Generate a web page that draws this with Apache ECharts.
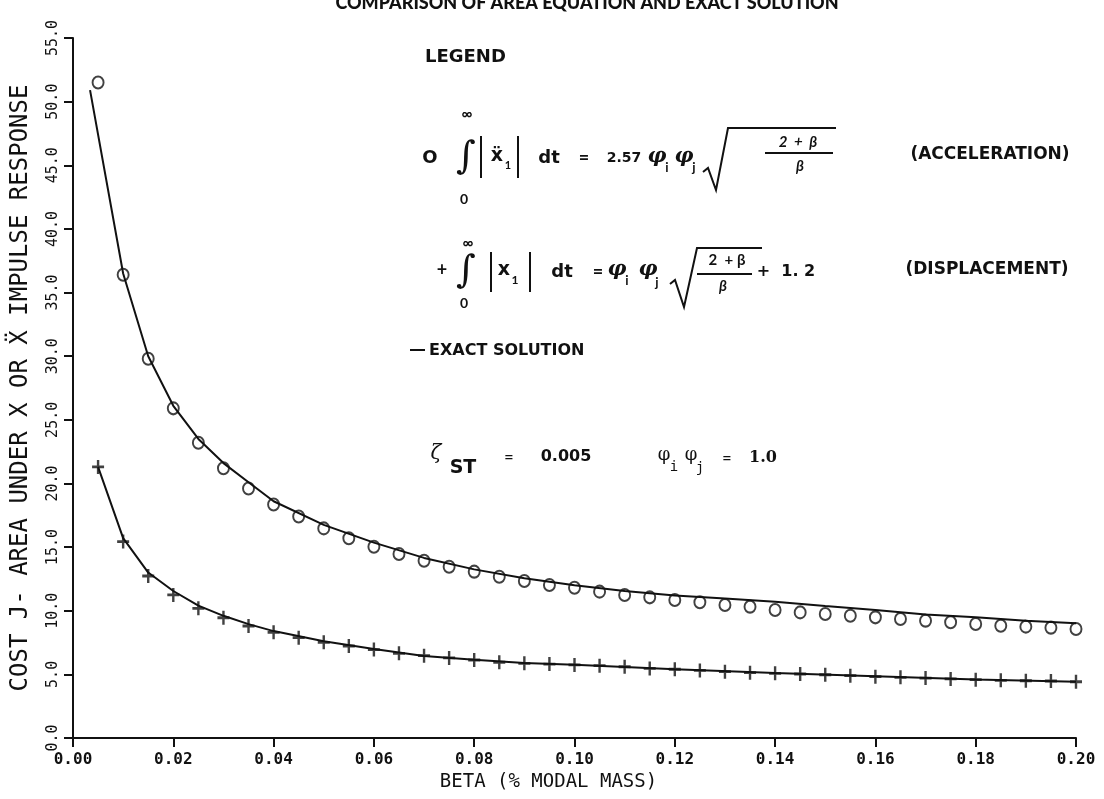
<!DOCTYPE html>
<html>
<head>
<meta charset="utf-8">
<title>Comparison of area equation and exact solution</title>
<script src="https://cdn.jsdelivr.net/npm/echarts@6/dist/echarts.min.js"></script>
<style>
  html, body { margin: 0; padding: 0; background: #fff; }
  #chart { width: 1104px; height: 799px; }
</style>
</head>
<body>
<div id="chart"></div>
<script>
// beta values of the plotted symbols
const betaPts = [
  0.005, 0.010, 0.015, 0.020, 0.025, 0.030, 0.035, 0.040, 0.045, 0.050,
  0.055, 0.060, 0.065, 0.070, 0.075, 0.080, 0.085, 0.090, 0.095, 0.100,
  0.105, 0.110, 0.115, 0.120, 0.125, 0.130, 0.135, 0.140, 0.145, 0.150,
  0.155, 0.160, 0.165, 0.170, 0.175, 0.180, 0.185, 0.190, 0.195, 0.200
];
// O : acceleration area equation
const accelVals = [
  51.5, 36.4, 29.8, 25.9, 23.2, 21.2, 19.6, 18.35, 17.4, 16.47,
  15.7, 15.03, 14.46, 13.93, 13.46, 13.07, 12.67, 12.34, 12.02, 11.81,
  11.5, 11.24, 11.05, 10.84, 10.66, 10.45, 10.32, 10.06, 9.87, 9.74,
  9.61, 9.48, 9.35, 9.22, 9.09, 8.96, 8.82, 8.75, 8.67, 8.56
];
// + : displacement area equation
const dispVals = [
  21.3, 15.43, 12.73, 11.24, 10.19, 9.45, 8.80, 8.30, 7.88, 7.52,
  7.23, 6.95, 6.65, 6.47, 6.29, 6.13, 5.95, 5.87, 5.81, 5.74,
  5.68, 5.60, 5.47, 5.40, 5.31, 5.21, 5.13, 5.08, 5.03, 4.97,
  4.90, 4.82, 4.77, 4.71, 4.64, 4.58, 4.53, 4.50, 4.48, 4.42
];
// exact solution curves
const exactAccBeta = [0.0034, 0.01, 0.015, 0.02, 0.025, 0.03, 0.035, 0.04, 0.05, 0.06, 0.07, 0.08,
  0.09, 0.10, 0.11, 0.12, 0.13, 0.14, 0.15, 0.16, 0.17, 0.18, 0.19, 0.20];
const exactAccVals = [50.9, 36.5, 30.0, 26.1, 23.5, 21.6, 20.1, 18.6, 16.75, 15.35, 14.15, 13.25,
  12.55, 12.0, 11.55, 11.2, 10.97, 10.71, 10.37, 10.06, 9.71, 9.48, 9.22, 9.01];
const exactDispBeta = [0.005, 0.01, 0.015, 0.02, 0.025, 0.03, 0.035, 0.04, 0.05, 0.06, 0.07, 0.08,
  0.09, 0.10, 0.12, 0.14, 0.16, 0.18, 0.20];
const exactDispVals = [21.3, 15.7, 13.0, 11.55, 10.4, 9.6, 8.95, 8.4, 7.6, 7.0, 6.45, 6.15,
  5.9, 5.75, 5.4, 5.1, 4.85, 4.6, 4.42];

const zip = (xs, ys) => xs.map((x, i) => [x, ys[i]]);

const INK = "#111";
const SANS = "'DejaVu Sans', sans-serif";
const LATO = "Lato, 'Open Sans', sans-serif";
const MONO = "'DejaVu Sans Mono', monospace";
const SERIF = "'DejaVu Serif', serif";

// little helper for the legend / annotation texts
function txt(x, y, s, size, extra) {
  return {
    type: "text",
    x: x,
    y: y,
    style: Object.assign({
      text: s,
      fill: INK,
      font: "bold " + size + "px " + LATO,
      align: "center",
      verticalAlign: "middle"
    }, extra || {})
  };
}
function seg(pts, w) {
  return {
    type: "polyline",
    shape: { points: pts },
    style: { stroke: INK, lineWidth: w || 2, fill: null }
  };
}

let myChart = echarts.init(document.getElementById("chart"));

myChart.setOption({
  backgroundColor: "#fff",
  animation: false,
  title: {
    text: "COMPARISON OF AREA EQUATION AND EXACT SOLUTION",
    left: 582,
    top: -11,
    textAlign: "center",
    textStyle: { fontFamily: LATO, fontWeight: 900, fontSize: 18, color: INK }
  },
  grid: { left: 73, right: 28, top: 38, bottom: 61 },
  xAxis: {
    type: "value",
    min: 0,
    max: 0.2,
    interval: 0.02,
    name: "BETA (% MODAL MASS)",
    nameLocation: "middle",
    nameGap: 34,
    nameTextStyle: { fontFamily: MONO, fontSize: 19, color: INK, padding: [0, 52, 0, 0] },
    axisLine: { lineStyle: { color: INK, width: 2 } },
    axisTick: { length: 9, inside: false, lineStyle: { color: INK, width: 2 } },
    axisLabel: {
      margin: 14,
      fontFamily: MONO,
      fontWeight: "bold",
      fontSize: 16,
      color: INK,
      formatter: v => v.toFixed(2)
    },
    splitLine: { show: false }
  },
  yAxis: {
    type: "value",
    min: 0,
    max: 55,
    interval: 5,
    name: "COST J- AREA UNDER X OR Ẍ IMPULSE RESPONSE",
    nameLocation: "middle",
    nameRotate: 90,
    nameGap: 40,
    nameTextStyle: { fontFamily: MONO, fontSize: 24, color: INK },
    axisLine: { show: true, lineStyle: { color: INK, width: 2 } },
    axisTick: { show: true, length: 9, lineStyle: { color: INK, width: 2 } },
    axisLabel: {
      rotate: 90,
      margin: 12,
      fontFamily: MONO,
      fontSize: 15,
      color: INK,
      formatter: v => v.toFixed(1)
    },
    splitLine: { show: false }
  },
  series: [
    {
      name: "EXACT (ACCELERATION)",
      type: "line",
      data: zip(exactAccBeta, exactAccVals),
      showSymbol: false,
      lineStyle: { color: INK, width: 2 },
      z: 2
    },
    {
      name: "EXACT (DISPLACEMENT)",
      type: "line",
      data: zip(exactDispBeta, exactDispVals),
      showSymbol: false,
      lineStyle: { color: INK, width: 2 },
      z: 2
    },
    {
      name: "ACCELERATION",
      type: "scatter",
      data: zip(betaPts, accelVals),
      symbol: "circle",
      symbolSize: [11, 12],
      itemStyle: { color: "rgba(0,0,0,0)", borderColor: INK, borderWidth: 2 },
      z: 3
    },
    {
      name: "DISPLACEMENT",
      type: "scatter",
      data: zip(betaPts, dispVals),
      symbol: "path://M4,0H6V4H10V6H6V10H4V6H0V4H4Z",
      symbolSize: [12, 14],
      itemStyle: { color: INK },
      z: 3
    }
  ],
  graphic: [
    txt(425, 57, "LEGEND", 18, { align: "left", font: "bold 18px " + SANS }),

    // row 1 : acceleration
    txt(430, 158, "O", 18, { font: "bold 18px " + SANS }),
    txt(466, 158, "∫", 46, { font: "38px " + SERIF }),
    txt(467, 114, "∞", 15),
    txt(464, 199, "0", 14),
    seg([[481, 136], [481, 178]], 2),
    txt(497, 156, "ẍ", 19, { font: "bold 19px " + SANS }),
    txt(508, 165, "1", 11),
    seg([[518, 136], [518, 178]], 2),
    txt(549, 158, "dt", 18, { font: "bold 18px " + SANS }),
    txt(584, 158, "=", 18),
    txt(624, 158, "2.57", 14, { font: "bold 14px " + SANS }),
    txt(657, 157, "φ", 21, { font: "italic bold 21px " + SERIF }),
    txt(667, 168, "i", 13),
    txt(684, 157, "φ", 21, { font: "italic bold 21px " + SERIF }),
    txt(694, 168, "j", 13),
    seg([[703, 172], [708, 168], [716, 190], [728, 128], [836, 128]], 2),
    txt(798, 142, "2  +  β", 15, { font: "italic bold 15px " + LATO }),
    seg([[765, 153], [833, 153]], 2),
    txt(800, 166, "β", 15, { font: "italic bold 15px " + LATO }),
    txt(990, 155, "(ACCELERATION)", 17, { font: "bold 17px " + SANS }),

    // row 2 : displacement
    txt(442, 270, "+", 18),
    txt(466, 272, "∫", 46, { font: "38px " + SERIF }),
    txt(468, 243, "∞", 15),
    txt(464, 303, "0", 14),
    seg([[491, 252], [491, 292]], 2),
    txt(504, 270, "x", 19, { font: "bold 19px " + SANS }),
    txt(515, 280, "1", 12),
    seg([[530, 252], [530, 292]], 2),
    txt(562, 272, "dt", 18, { font: "bold 18px " + SANS }),
    txt(598, 272, "=", 18),
    txt(617, 270, "φ", 21, { font: "italic bold 21px " + SERIF }),
    txt(627, 281, "i", 13),
    txt(648, 270, "φ", 21, { font: "italic bold 21px " + SERIF }),
    txt(657, 283, "j", 13),
    seg([[670, 284], [675, 280], [684, 307], [697, 248], [762, 248]], 2),
    txt(727, 260, "2  + β", 15, { font: "bold 15px " + LATO }),
    seg([[697, 274], [752, 274]], 2),
    txt(723, 286, "β", 15, { font: "italic bold 15px " + LATO }),
    txt(786, 272, "+  1. 2", 16, { font: "bold 16px " + SANS }),
    txt(987, 270, "(DISPLACEMENT)", 17, { font: "bold 17px " + SANS }),

    // exact solution key
    seg([[410, 350], [425, 350]], 2),
    txt(429, 351, "EXACT SOLUTION", 16, { align: "left", font: "bold 16px " + SANS }),

    // damping and modal products
    txt(436, 454, "ζ", 20, { font: "italic 20px " + SERIF }),
    txt(463, 468, "ST", 19, { font: "bold 19px " + SANS }),
    txt(509, 457, "=", 16),
    txt(566, 457, "0.005", 16, { font: "bold 16px " + SANS }),
    txt(664, 455, "φ", 18, { font: "18px " + SERIF }),
    txt(674, 467, "i", 14, { font: "14px " + MONO }),
    txt(691, 455, "φ", 18, { font: "18px " + SERIF }),
    txt(700, 468, "j", 14, { font: "14px " + MONO }),
    txt(727, 458, "=", 16),
    txt(763, 458, "1.0", 16, { font: "bold 16px " + SERIF })
  ]
});
</script>
</body>
</html>
